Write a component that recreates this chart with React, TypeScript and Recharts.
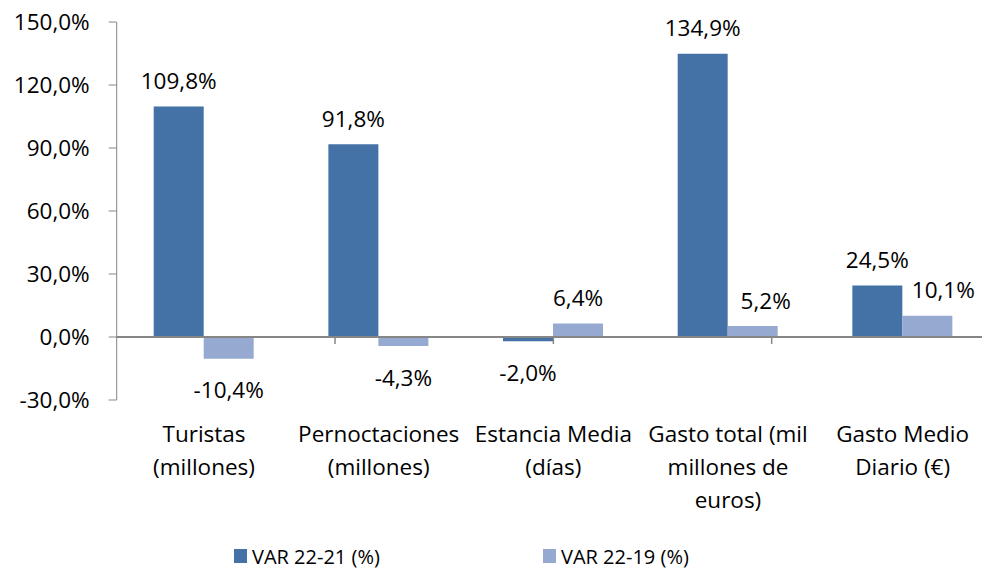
import { Bar, BarChart, LabelList, Legend, ReferenceLine, XAxis, YAxis } from 'recharts'

const categories = [
  'Turistas\n(millones)',
  'Pernoctaciones\n(millones)',
  'Estancia Media\n(días)',
  'Gasto total (mil\nmillones de\neuros)',
  'Gasto Medio\nDiario (€)',
]
const var2221 = [109.8, 91.8, -2.0, 134.9, 24.5]
const var2219 = [-10.4, -4.3, 6.4, 5.2, 10.1]
const yTicks = [-30, 0, 30, 60, 90, 120, 150]
const seriesNames = ['VAR 22-21 (%)', 'VAR 22-19 (%)']
const categoryEdges = [1, 2, 3, 4]

const DARK = '#4472A6'
const LIGHT = '#95A9D1'
const AXIS = '#868686'
const FONT = '"Open Sans", sans-serif'
const FS = 22.5

// nudges so the small labels don't collide with the neighbour bar's label
const lightLabelShift = [0, 0, 0, 13, 16]

const data = categories.map((name, i) => ({ name, a: var2221[i], b: var2219[i] }))

const fmt = (v: number) => `${v.toFixed(1).replace('.', ',')}%`

const makeLabel = (shifts: number[]) => (props: any) => {
  const { x, y, width, height, value, index } = props
  const top = Math.min(Number(y), Number(y) + Number(height))
  const bottom = Math.max(Number(y), Number(y) + Number(height))
  const cy = value >= 0 ? top - 26 : bottom + 31
  return (
    <text
      x={Number(x) + Number(width) / 2 + (shifts[index] ?? 0)}
      y={cy}
      textAnchor="middle"
      dominantBaseline="central"
      fontSize={FS}
      fontFamily={FONT}
      fill="#000"
    >
      {fmt(Number(value))}
    </text>
  )
}

const CategoryTick = (props: any) => {
  const { x, y, payload } = props
  const lines = String(payload.value).split('\n')
  return (
    <text x={x} y={y} textAnchor="middle" fontSize={FS} fontFamily={FONT} fill="#000">
      {lines.map((ln, i) => (
        <tspan key={i} x={x} dy={i === 0 ? 42 : 33}>
          {ln}
        </tspan>
      ))}
    </text>
  )
}

const LegendBox = () => (
  <div style={{ position: 'relative', height: 28, fontFamily: FONT, fontSize: 20, color: '#000' }}>
    {[DARK, LIGHT].map((c, i) => (
      <div
        key={i}
        style={{
          position: 'absolute',
          left: i === 0 ? 234 : 543,
          top: 0,
          height: 28,
          display: 'flex',
          alignItems: 'center',
          whiteSpace: 'nowrap',
        }}
      >
        <span style={{ display: 'inline-block', width: 13, height: 14, background: c, marginRight: 5 }} />
        <span>{seriesNames[i]}</span>
      </div>
    ))}
  </div>
)

export default function App() {
  return (
    <div
      style={{
        position: 'absolute',
        top: 0,
        left: 0,
        width: 982,
        height: 570,
        overflow: 'hidden',
        background: '#fff',
        fontFamily: FONT,
      }}
    >
      <BarChart
        width={982}
        height={570}
        data={data}
        margin={{ top: 22, right: -8, left: 0, bottom: 0 }}
        barGap={0}
        barSize={50}
      >
        <XAxis
          dataKey="name"
          axisLine={false}
          tickLine={false}
          tickSize={0}
          tickMargin={0}
          height={142}
          interval={0}
          tick={<CategoryTick />}
        />
        <XAxis xAxisId="edges" type="number" domain={[0, 5]} hide />
        <YAxis
          domain={[-30, 150]}
          ticks={yTicks}
          interval={0}
          width={116.7}
          tickFormatter={fmt}
          stroke={AXIS}
          tickSize={8}
          tickMargin={19}
          tick={{ fill: '#000', fontSize: FS, fontFamily: FONT }}
        />
        <ReferenceLine y={0} stroke={AXIS} strokeWidth={2} />
        {categoryEdges.map((e) => (
          <ReferenceLine
            key={e}
            xAxisId="edges"
            segment={[
              { x: e, y: 0 },
              { x: e, y: -3.3 },
            ]}
            stroke={AXIS}
            strokeWidth={1.5}
          />
        ))}
        <Bar dataKey="a" name={seriesNames[0]} fill={DARK} isAnimationActive={false}>
          <LabelList dataKey="a" content={makeLabel([0, 0, 0, 0, 0])} />
        </Bar>
        <Bar dataKey="b" name={seriesNames[1]} fill={LIGHT} isAnimationActive={false}>
          <LabelList dataKey="b" content={makeLabel(lightLabelShift)} />
        </Bar>
        <Legend verticalAlign="bottom" wrapperStyle={{ left: 0, width: 982, height: 28 }} content={() => <LegendBox />} />
      </BarChart>
    </div>
  )
}
